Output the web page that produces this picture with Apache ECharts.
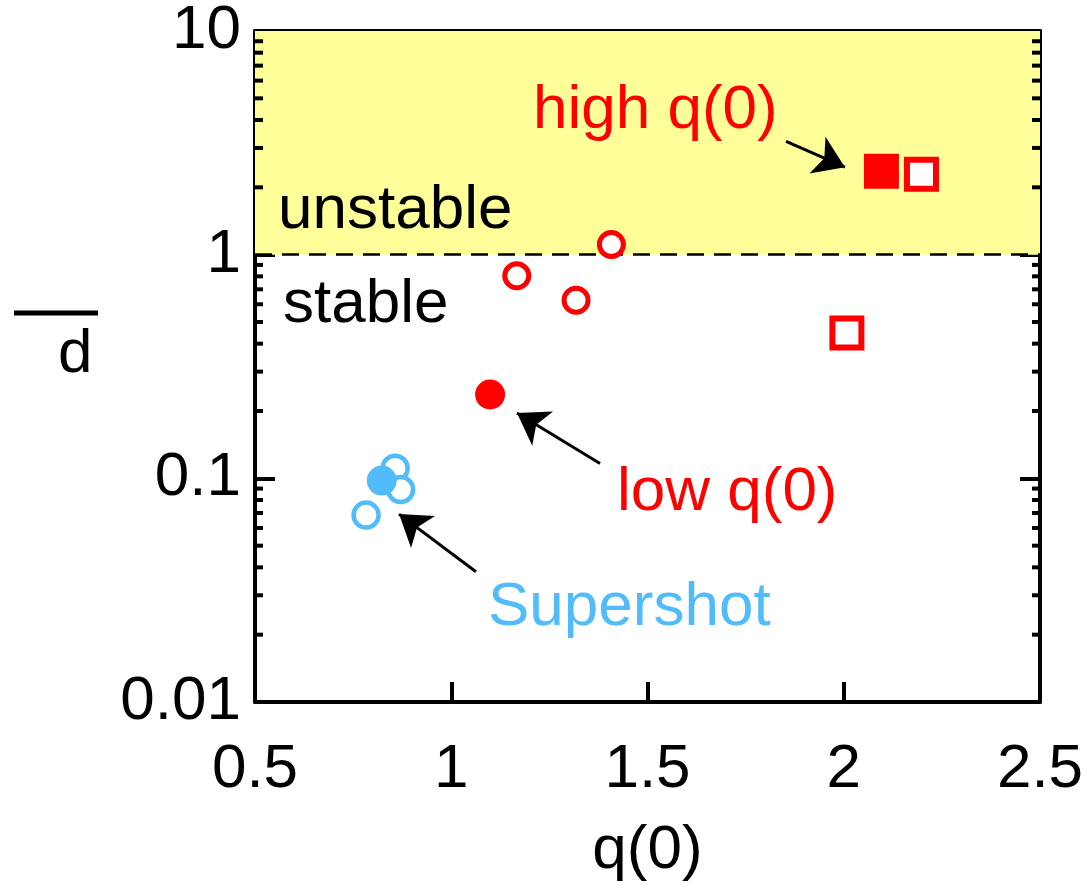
<!DOCTYPE html>
<html><head><meta charset="utf-8">
<script src="https://cdn.jsdelivr.net/npm/echarts@6/dist/echarts.min.js"></script>
<style>html,body{margin:0;padding:0;background:#fff}#c{width:1087px;height:888px}</style>
</head><body><div id="c"></div>
<script>
// ---- data ----
const xTicks = [0.5, 1, 1.5, 2, 2.5];
const yTicks = [0.01, 0.1, 1, 10];
const redOpenCircles = [[1.408, 1.11], [1.167, 0.804], [1.318, 0.625]];
const redFilledCircle = [[1.099, 0.237]];
const redOpenSquares = [[2.198, 2.29], [2.008, 0.446]];
const redFilledSquare = [[2.096, 2.36]];
const blueOpenCircles = [[0.857, 0.111], [0.871, 0.0891], [0.783, 0.0685]];
const blueFilledCircle = [[0.823, 0.0977]];
const minorTickValues = [0.02,0.03,0.04,0.05,0.06,0.07,0.08,0.09,0.2,0.3,0.4,0.5,0.6,0.7,0.8,0.9,2,3,4,5,6,7,8,9];
const arrows = [
  {from: [1.853, 3.21], to: [2.003, 2.46]},
  {from: [1.379, 0.1166], to: [1.1675, 0.196]},
  {from: [1.063, 0.0382], to: [0.867, 0.0692]}
];

const RED = '#ff0000', BLUE = '#52bcfa', FONT = 'Liberation Sans, Arial, sans-serif';
const chart = echarts.init(document.getElementById('c'));

const axisCommon = {
  axisLine: {show: true, lineStyle: {color: '#000', width: 4}},
  axisTick: {show: true, inside: true, length: 20, lineStyle: {color: '#000', width: 4}},
  splitLine: {show: false}
};

function txt(s, x, y, color) {
  return {type: 'text', z: 10, style: {text: s, x: x, y: y, fontSize: 62, fontFamily: FONT,
    fill: color, textVerticalAlign: 'middle', verticalAlign: 'middle'}};
}

chart.setOption({
  animation: false,
  grid: {left: 255, right: 47, top: 27, bottom: 186, containLabel: false},
  xAxis: [
    Object.assign({type: 'value', min: 0.5, max: 2.5, interval: 0.5, position: 'bottom',
      name: 'q(0)', nameLocation: 'middle', nameGap: 118,
      nameTextStyle: {fontSize: 62, fontFamily: FONT, color: '#000'},
      axisLabel: {fontSize: 62, fontFamily: FONT, color: '#000', margin: 37,
        formatter: v => String(v)}}, axisCommon),
    Object.assign({type: 'value', min: 0.5, max: 2.5, interval: 0.5, position: 'top',
      axisLabel: {show: false}}, axisCommon)
  ],
  yAxis: [
    Object.assign({type: 'log', logBase: 10, min: 0.01, max: 10, position: 'left',
      axisLabel: {fontSize: 62, fontFamily: FONT, color: '#000', margin: 14,
        formatter: v => String(+v.toPrecision(3))}}, axisCommon),
    Object.assign({type: 'log', logBase: 10, min: 0.01, max: 10, position: 'right',
      axisLabel: {show: false}}, axisCommon)
  ],
  graphic: [
    {type: 'line', shape: {x1: 14, y1: 313, x2: 98, y2: 313}, style: {stroke: '#000', lineWidth: 5}},
    txt('d', 58, 355, '#000'),
    txt('unstable', 278, 211, '#000'),
    txt('stable', 283, 305, '#000'),
    txt('high q(0)', 533, 111, RED),
    txt('low q(0)', 617, 493, RED),
    txt('Supershot', 488, 608, BLUE)
  ],
  series: [
    {
      type: 'scatter', data: [], silent: true,
      markArea: {silent: true, itemStyle: {color: '#ffff99', opacity: 1}, data: [[{yAxis: 1}, {yAxis: 10}]]},
      markLine: {silent: true, symbol: 'none', label: {show: false},
        lineStyle: {color: '#000', type: [17, 10], width: 2.5, opacity: 1},
        data: [{yAxis: 1}]}
    },
    {
      type: 'custom', silent: true, clip: false, z: 5,
      data: minorTickValues.map(v => [v]),
      renderItem: function (params, api) {
        const v = api.value(0);
        const pl = api.coord([0.5, v]);
        const pr = api.coord([2.5, v]);
        return {type: 'group', children: [
          {type: 'line', shape: {x1: pl[0], y1: pl[1], x2: pl[0] + 8, y2: pl[1]}, style: {stroke: '#000', lineWidth: 4}},
          {type: 'line', shape: {x1: pr[0], y1: pr[1], x2: pr[0] - 8, y2: pr[1]}, style: {stroke: '#000', lineWidth: 4}}
        ]};
      },
      encode: {y: 0}
    },
    {
      type: 'lines', coordinateSystem: 'cartesian2d', silent: true, z: 6,
      symbol: ['none', 'arrow'], symbolSize: [18, 30],
      lineStyle: {color: '#000', width: 3, opacity: 1},
      data: arrows.map(a => ({coords: [a.from, a.to]}))
    },
    {type: 'scatter', data: redOpenCircles, symbol: 'circle', symbolSize: 24, z: 7,
      itemStyle: {color: '#fff', borderColor: RED, borderWidth: 5, opacity: 1}},
    {type: 'scatter', data: redFilledCircle, symbol: 'circle', symbolSize: 30, z: 7,
      itemStyle: {color: RED, opacity: 1}},
    {type: 'scatter', data: redOpenSquares, symbol: 'rect', symbolSize: 29, z: 7,
      itemStyle: {color: '#fff', borderColor: RED, borderWidth: 6, opacity: 1}},
    {type: 'scatter', data: redFilledSquare, symbol: 'rect', symbolSize: 35, z: 7,
      itemStyle: {color: RED, opacity: 1}},
    {type: 'scatter', data: blueOpenCircles, symbol: 'circle', symbolSize: 25, z: 7,
      itemStyle: {color: '#fff', borderColor: BLUE, borderWidth: 4.5, opacity: 1}},
    {type: 'scatter', data: blueFilledCircle, symbol: 'circle', symbolSize: 30, z: 8,
      itemStyle: {color: BLUE, opacity: 1}}
  ]
});
</script></body></html>
